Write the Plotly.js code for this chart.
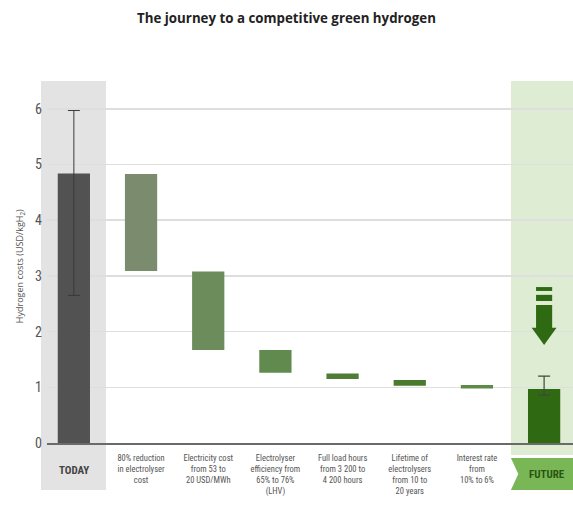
<!DOCTYPE html>
<html>
<head>
<meta charset="utf-8">
<script src="https://cdn.plot.ly/plotly-3.0.1.min.js"></script>
<style>html,body{margin:0;padding:0;background:#fff;}#chart{width:573px;height:519px;}</style>
</head>
<body>
<div id="chart"></div>
<script>
// ---- data ----
const categories = ["TODAY",
  "80% reduction<br>in electrolyser<br>cost",
  "Electricity cost<br>from 53 to<br>20 USD/MWh",
  "Electrolyser<br>efficiency from<br>65% to 76%<br>(LHV)",
  "Full load hours<br>from 3 200 to<br>4 200 hours",
  "Lifetime of<br>electrolysers<br>from 10 to<br>20 years",
  "Interest rate<br>from<br>10% to 6%",
  "FUTURE"];
const todayValue = 4.84;
const todayErrHigh = 5.97;
const todayErrLow = 2.65;
const stepTops = [4.83, 3.08, 1.67, 1.25, 1.13, 1.04];
const stepBottoms = [3.09, 1.67, 1.26, 1.15, 1.03, 0.98];
const futureValue = 0.97;
const futureErrHigh = 1.2;
const futureErrLow = 0.86;
const stepColors = ["#7b8c6e", "#6c8c5b", "#608a4e", "#4f7d35", "#4a7a2e", "#5b8b46"];

const idx = categories.map((c, i) => i);
const stepX = stepTops.map((v, i) => i + 1);
const lastIdx = categories.length - 1;

const traces = [
  {type: 'bar', x: [idx[0]], y: [todayValue], width: 0.48,
   marker: {color: '#525252'},
   error_y: {type: 'data', symmetric: false, array: [todayErrHigh - todayValue],
             arrayminus: [todayValue - todayErrLow], color: '#3a3a3a', thickness: 1, width: 6},
   hoverinfo: 'y'},
  {type: 'bar', x: stepX, y: stepTops.map((t, i) => t - stepBottoms[i]), base: stepBottoms,
   width: 0.48, marker: {color: stepColors}, hoverinfo: 'y'},
  {type: 'bar', x: [idx[lastIdx]], y: [futureValue], width: 0.48,
   marker: {color: '#2f6a12'},
   error_y: {type: 'data', symmetric: false, array: [futureErrHigh - futureValue],
             arrayminus: [futureValue - futureErrLow], color: '#3e4a38', thickness: 1.2, width: 6},
   hoverinfo: 'y'}
];

const tickFont = "'Liberation Sans Narrow', 'Roboto Condensed', Roboto, sans-serif";
const ax = lastIdx, sw = 0.12, hw = 0.185;
const arrowPath = `M ${ax-sw},2.48 L ${ax+sw},2.48 L ${ax+sw},2.07 L ${ax+hw},2.07 L ${ax},1.76 L ${ax-hw},2.07 L ${ax-sw},2.07 Z`;

const layout = {
  width: 573, height: 519,
  margin: {l: 47, r: 0, t: 81, b: 76},
  paper_bgcolor: '#ffffff', plot_bgcolor: 'rgba(0,0,0,0)',
  showlegend: false, barmode: 'overlay',
  title: {text: '<b>The journey to a competitive green hydrogen</b>',
          font: {family: "'Open Sans', sans-serif", size: 13.3, color: '#222'},
          x: 0.5, xanchor: 'center', y: 0.965, yanchor: 'middle', yref: 'container'},
  xaxis: {type: 'linear', range: [-0.4, 7.43], tickvals: idx.slice(1, lastIdx),
          ticktext: categories.slice(1, lastIdx),
          tickfont: {family: tickFont, size: 8.5, color: '#555'},
          ticks: '', showgrid: false, zeroline: false,
          showline: true, linecolor: '#6a6a6a', linewidth: 2, ticklabelstandoff: 6, fixedrange: true},
  yaxis: {range: [0, 6.5], tickvals: [0, 1, 2, 3, 4, 5, 6], ticks: '',
          tickfont: {family: tickFont, size: 14, color: '#555'},
          showgrid: true, gridcolor: '#dedede', gridwidth: 1.5, zeroline: false, showline: false,
          ticklabelstandoff: 4, fixedrange: true},
  shapes: [
    {type: 'rect', xref: 'paper', yref: 'paper', x0: -0.0114, x1: 0.1122, y0: -0.13, y1: 1,
     fillcolor: '#e3e3e3', line: {width: 0}, layer: 'below'},
    {type: 'rect', xref: 'paper', yref: 'paper', x0: 0.882, x1: 1.0, y0: -0.033, y1: 1,
     fillcolor: '#ddecd2', line: {width: 0}, layer: 'below'},
    {type: 'path', xref: 'paper', yref: 'paper',
     path: 'M 0.882,-0.0414 L 1.0,-0.0414 L 1.0,-0.13 L 0.882,-0.13 L 0.896,-0.0857 Z',
     fillcolor: '#79b655', line: {width: 0}, layer: 'above'},
    {type: 'path', xref: 'x', yref: 'y', path: arrowPath, fillcolor: '#2f6a12', line: {width: 0}},
    {type: 'rect', xref: 'x', yref: 'y', x0: ax - sw, x1: ax + sw, y0: 2.55, y1: 2.66,
     fillcolor: '#2f6a12', line: {width: 0}},
    {type: 'rect', xref: 'x', yref: 'y', x0: ax - sw, x1: ax + sw, y0: 2.73, y1: 2.80,
     fillcolor: '#2f6a12', line: {width: 0}}
  ],
  annotations: [
    {text: 'Hydrogen costs (USD/kgH<sub>2</sub>)', xref: 'paper', yref: 'paper', x: -0.051, y: 0.489,
     textangle: -90, showarrow: false, xanchor: 'center', yanchor: 'middle',
     font: {family: "'Open Sans', sans-serif", size: 9, color: '#555'}},
    {text: '<b>' + categories[0] + '</b>', xref: 'x', yref: 'paper', x: idx[0], y: -0.0746, showarrow: false,
     xanchor: 'center', yanchor: 'middle',
     font: {family: tickFont, size: 11, color: '#444'}},
    {text: '<b>' + categories[lastIdx] + '</b>', xref: 'paper', yref: 'paper', x: 0.9506, y: -0.0857, showarrow: false,
     xanchor: 'center', yanchor: 'middle',
     font: {family: tickFont, size: 11, color: '#2a5510'}}
  ]
};

Plotly.newPlot('chart', traces, layout, {displayModeBar: false, staticPlot: true});
</script>
</body>
</html>
